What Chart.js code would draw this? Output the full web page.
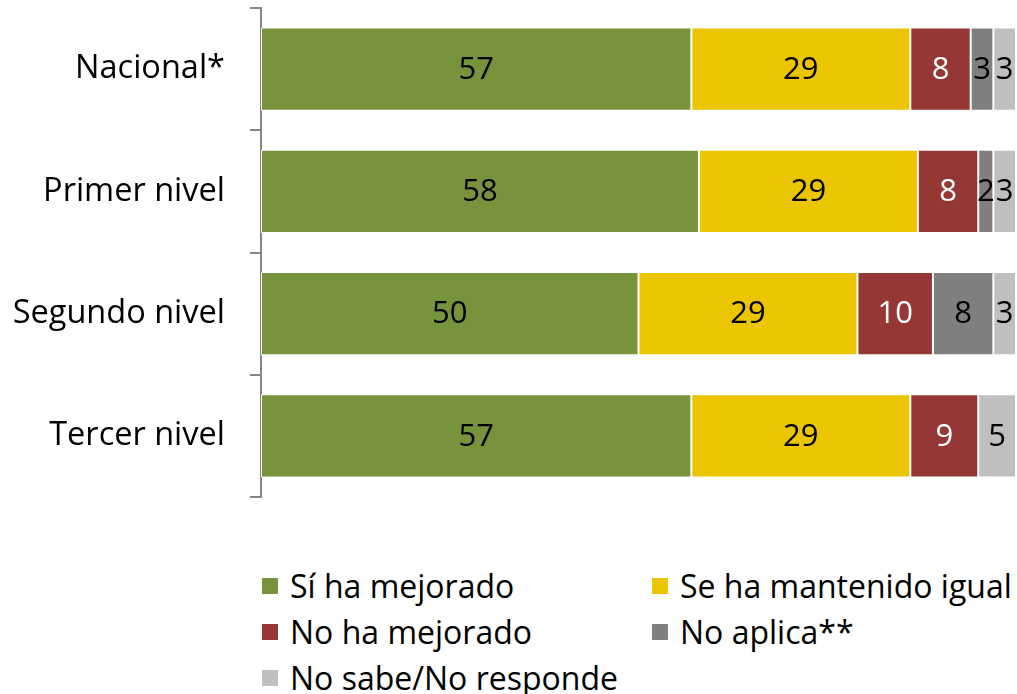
<!DOCTYPE html>
<html>
<head>
<meta charset="utf-8">
<script src="https://cdn.jsdelivr.net/npm/chart.js@4"></script>
<style>
    body { margin: 0; background: #fff; }
    #wrap { position: relative; width: 1017px; height: 694px; }
    #chart { position: absolute; left: 0; top: 0; }
    #legend {
        position: absolute; left: 262px; top: 563px;
        display: grid; grid-template-columns: 390px 370px; row-gap: 1px;
        font-family: "Open Sans", sans-serif; font-size: 32px; color: #000;
    }
    .item { display: flex; align-items: center; height: 45px; white-space: nowrap; }
    .box { width: 16px; height: 16px; margin-right: 12px; flex: none; }
</style>
</head>
<body>
<div id="wrap">
    <canvas id="chart" width="1017" height="520"></canvas>
    <div id="legend"></div>
</div>
<script>
const categories = ['Nacional*', 'Primer nivel', 'Segundo nivel', 'Tercer nivel'];
const seriesNames = ['Sí ha mejorado', 'Se ha mantenido igual', 'No ha mejorado', 'No aplica**', 'No sabe/No responde'];
const siHaMejorado = [57, 58, 50, 57];
const seHaMantenido = [29, 29, 29, 29];
const noHaMejorado = [8, 8, 10, 9];
const noAplica = [3, 2, 8, 0];
const noSabe = [3, 3, 3, 5];
const colors = ['#77933C', '#EBC500', '#953735', '#7F7F7F', '#BFBFBF'];
const labelColors = ['#000', '#000', '#fff', '#000', '#000'];

const seriesValues = [siHaMejorado, seHaMantenido, noHaMejorado, noAplica, noSabe];

// --- labels centered in each segment ---
const segmentLabels = {
    id: 'segmentLabels',
    afterDatasetsDraw(chart) {
        const ctx = chart.ctx;
        ctx.save();
        ctx.font = '31px "Open Sans", sans-serif';
        ctx.textAlign = 'center';
        ctx.textBaseline = 'middle';
        chart.data.datasets.forEach((ds, i) => {
            chart.getDatasetMeta(i).data.forEach((bar, j) => {
                const v = ds.data[j];
                if (!v) return;
                const p = bar.getProps(['x', 'y', 'base'], true);
                ctx.fillStyle = labelColors[i];
                ctx.fillText(String(v), (p.x + p.base) / 2, p.y + 1);
            });
        });
        ctx.restore();
    }
};

const chart = new Chart(document.getElementById('chart'), {
    type: 'bar',
    data: {
        labels: categories,
        datasets: seriesValues.map((vals, i) => ({
            label: seriesNames[i],
            data: vals,
            backgroundColor: colors[i],
            borderColor: '#fff',
            borderWidth: 1,
            borderSkipped: false,
            categoryPercentage: 0.68,
            barPercentage: 1
        }))
    },
    options: {
        indexAxis: 'y',
        responsive: false,
        animation: false,
        layout: { padding: { top: 8, bottom: 23, right: 1, left: 0 } },
        plugins: {
            legend: { display: false },
            tooltip: { enabled: false }
        },
        scales: {
            x: { stacked: true, min: 0, max: 100, display: false },
            y: {
                stacked: true,
                afterFit: (scale) => {
                    scale.width = 261;
                    scale.paddingTop = 0;
                    scale.paddingBottom = 0;
                },
                grid: { drawOnChartArea: false, tickLength: 11, color: '#868686', lineWidth: 2 },
                border: { color: '#868686', width: 2 },
                ticks: {
                    padding: 25,
                    color: '#000',
                    font: { family: '"Open Sans", sans-serif', size: 32.5 }
                }
            }
        }
    },
    plugins: [segmentLabels]
});

// --- HTML legend ---
const legend = document.getElementById('legend');
chart.data.datasets.forEach((ds) => {
    const item = document.createElement('div');
    item.className = 'item';
    const box = document.createElement('span');
    box.className = 'box';
    box.style.background = ds.backgroundColor;
    item.appendChild(box);
    item.appendChild(document.createTextNode(ds.label));
    legend.appendChild(item);
});
</script>
</body>
</html>
